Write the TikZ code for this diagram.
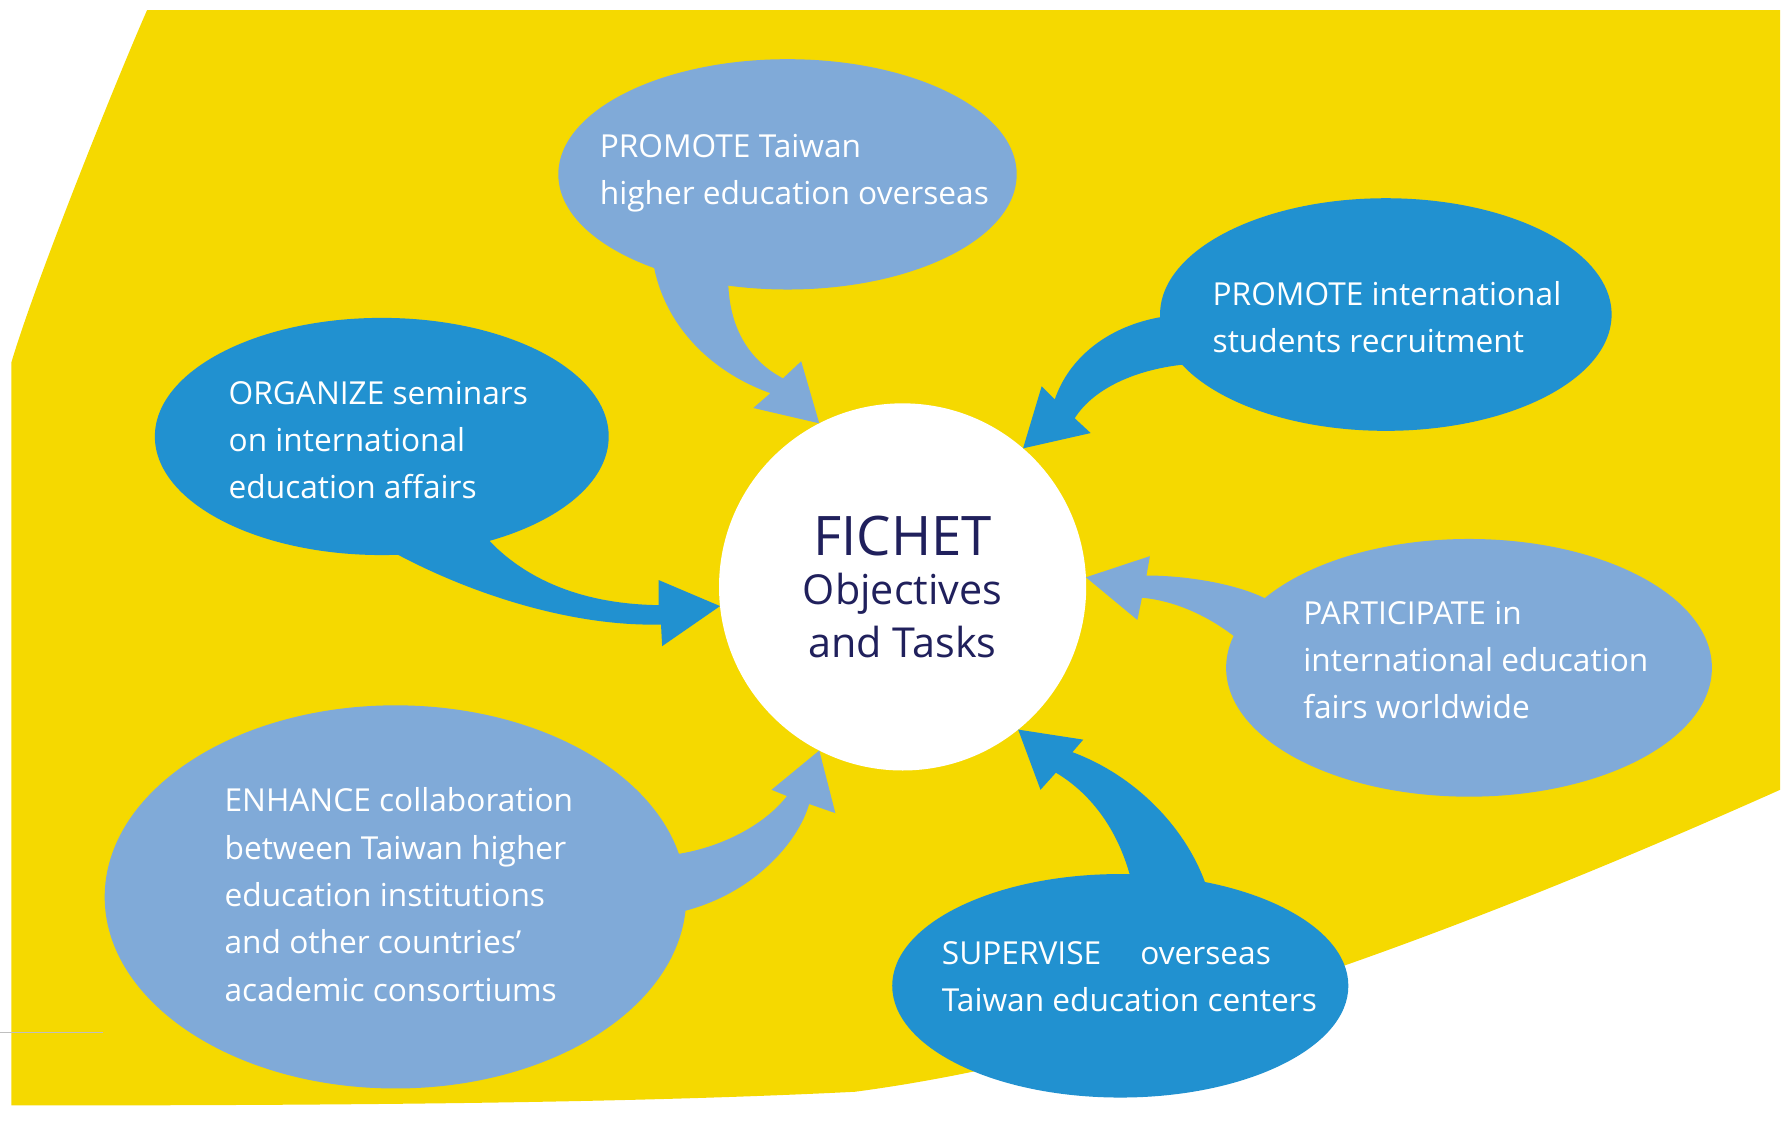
\documentclass[tikz,border=0pt]{standalone}
\usepackage{fontspec}
\setmainfont{Open Sans}
\usetikzlibrary{calc,shapes.geometric}
\definecolor{fichetyellow}{RGB}{245,217,0}
\definecolor{taskdark}{RGB}{33,145,208}
\definecolor{tasklight}{RGB}{128,170,216}
\definecolor{fichetnavy}{RGB}{32,32,92}
\tikzset{
	bubble/.style={ellipse, inner sep=0pt, outer sep=0pt},
	bubbletext/.style={text=white, align=left, inner sep=0pt, font=\fontsize{7.9}{11.8}\selectfont},
}

\begin{document}
\begin{tikzpicture}[x=0.01cm, y=-0.01cm]
			%%%%% START %%%%%
			\useasboundingbox (0, 0) rectangle (1568, 989);
			
			\fill[fichetyellow] (129, 9) -- (1562, 9) -- (1562, 693) .. controls (1300, 810) and (1000, 925) .. (750, 958) .. controls (550, 968) and (300, 970) .. (10, 970) -- (10, 318) .. controls (30, 250) and (100, 75) .. (129, 9) -- cycle;
			\draw[black!25, line width=0.4pt] (0, 906) -- (90, 906);
			
			\node[circle, fill=white, minimum size=3.22cm, inner sep=0pt, outer sep=0pt, text=fichetnavy, align=center, font=\fontsize{10.3}{12.3}\selectfont] (fichet) at (792, 515) {{\fontsize{13.6}{14}\selectfont FICHET}\\Objectives\\[0.8pt]and Tasks};
			
			\node[bubble, fill=tasklight, minimum width=4.02cm, minimum height=2.02cm] (promote) at (691, 153) {};
			\node[bubble, fill=taskdark, minimum width=3.98cm, minimum height=2.08cm] (organize) at (335, 383) {};
			\node[bubble, fill=taskdark, minimum width=3.96cm, minimum height=2.04cm] (recruit) at (1216, 276) {};
			\node[bubble, fill=tasklight, minimum width=4.26cm, minimum height=2.26cm] (participate) at (1289, 586) {};
			\node[bubble, fill=taskdark, minimum width=4.0cm, minimum height=1.96cm] (supervise) at (983, 865) {};
			\node[bubble, fill=tasklight, minimum width=5.1cm, minimum height=3.36cm] (enhance) at (347, 787) {};
			
			% tails
			\fill[tasklight] ($(promote)+(-119, 69)$) .. controls (578, 280) and (620, 325) .. (676, 345) -- (661, 358) -- (fichet.117.5) -- (703, 317) -- (687, 332) .. controls (655, 315) and (640, 285) .. ($(promote)+(-52, 95)$) -- cycle;
			\fill[taskdark] ($(organize)+(92, 89)$) .. controls (460, 508) and (510, 530) .. (578, 531) -- (578, 509) -- (fichet.186.4) -- (581, 567) -- (580, 548) .. controls (500, 550) and (410, 520) .. ($(organize)+(9, 101)$) -- cycle;
			\fill[taskdark] ($(recruit)+(-196, 2)$) .. controls (972, 286) and (938, 314) .. (925.5, 350.5) -- (914, 339) -- (fichet.49.2) -- (957, 380) -- (943, 367) .. controls (960, 340) and (1000, 322) .. ($(recruit)+(-167, 43)$) -- cycle;
			\fill[tasklight] ($(participate)+(-177, -60)$) .. controls (1085, 512) and (1040, 505) .. (1006, 505) -- (1009, 488) -- (fichet.3.2) -- (998, 544) -- (1002, 524.5) .. controls (1030, 527) and (1060, 540) .. ($(participate)+(-204, -26)$) -- cycle;
			\fill[taskdark] ($(supervise)+(9, -95)$) .. controls (980, 725) and (955, 695) .. (926.5, 678) -- (913, 693) -- (fichet.309.2) -- (950.5, 649) -- (941, 660) .. controls (995, 680) and (1040, 725) .. ($(supervise)+(75, -89)$) -- cycle;
			\fill[tasklight] ($(enhance)+(243, -37)$) .. controls (630, 745) and (670, 725) .. (690.5, 698.5) -- (677, 693) -- (fichet.243.5) -- (733, 713.5) -- (710, 705.5) .. controls (700, 740) and (660, 785) .. ($(enhance)+(251, 13)$) -- cycle;
			
			% texts
			\node[bubbletext] (promotetext) at ($(promote)+(6, -1)$) {PROMOTE Taiwan\\higher education overseas};
			\node[bubbletext] (organizetext) at ($(organize)+(-3, 3)$) {ORGANIZE seminars\\on international\\education affairs};
			\node[bubbletext] (recruittext) at ($(recruit)+(1, 2)$) {PROMOTE international\\students recruitment};
			\node[bubbletext] (participatetext) at ($(participate)+(6, -7)$) {PARTICIPATE in\\international education\\fairs worldwide};
			\node[bubbletext] (supervisetext) at ($(supervise)+(8, -8)$) {SUPERVISE\hspace{2.7mm} overseas\\Taiwan education centers};
			\node[bubbletext] (enhancetext) at ($(enhance)+(3, -2)$) {ENHANCE collaboration\\between Taiwan higher\\education institutions\\and other countries’\\academic consortiums};
			
			%%%%% END %%%%%
\end{tikzpicture}
\end{document}
